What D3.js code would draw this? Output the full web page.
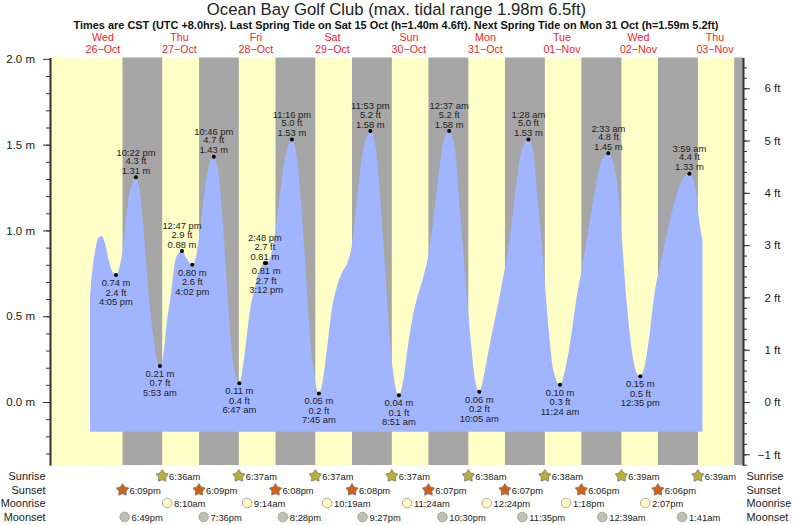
<!DOCTYPE html>
<meta charset="utf-8">
<title>Ocean Bay Golf Club tides</title>
<style>

body { margin: 0; background: #fff; }
svg { display: block; }
text { font-family: "Liberation Sans", Arial, sans-serif; fill: #222; }
.axis text { font-size: 11.5px; font-family: "Liberation Sans", Arial, sans-serif; }
.axis path, .axis line { stroke: #333; }
.axis path { stroke-width: 1.6; }
.tide text { font-size: 9.4px; }
.row text { font-size: 9.4px; }
.row text.name { font-size: 10.9px; }
.day text { font-size: 10.7px; fill: #f22; }

</style>
<body>
<script src="https://d3js.org/d3.v7.min.js"></script>
<script>

// hours since midnight 26 Oct, metres: outline of the tide
var curveHours = [7.94, 8.67, 9.51, 10.55, 11.6, 12.65, 13.69, 14.74, 16.08, 17.35, 18.4, 19.44, 20.49, 22.37,
  23.63, 24.67, 26.24, 27.81, 28.86, 29.88, 30.95, 32.0, 33.35, 34.61, 35.65, 36.78, 38.27, 40.03, 41.2, 42.45,
  44.02, 45.28, 46.77, 48.2, 49.77, 51.34, 52.9, 54.78, 56.05, 57.1, 58.14, 59.19, 60.76, 62.3, 62.8, 63.2, 64.42,
  65.99, 67.56, 69.12, 71.27, 72.8, 73.83, 75.4, 76.97, 78.2, 79.75, 81.15, 82.5, 83.77, 85.13, 86.9, 88.8, 90.04,
  91.6, 92.97, 94.44, 95.88, 97.37, 98.4, 99.98, 101.55, 103.1, 104.85, 106.25, 107.8, 109.4, 110.96, 112.53,
  114.1, 115.67, 117.24, 118.8, 120.62, 122.47, 124.03, 125.6, 127.17, 128.74, 130.08, 131.36, 132.93, 134.5,
  135.55, 138.16, 140.25, 141.82, 143.38, 145.47, 147.04, 148.6, 150.18, 151.75, 153.3, 155.4, 156.98, 158.55,
  160.64, 162.2, 164.3, 166.4, 168.5, 170.55, 172.15, 173.7, 174.76, 176.33, 177.9, 179.47, 180.58, 182.1, 183.66,
  185.2, 186.8, 188.9, 191.5, 193.6, 195.98, 197.8, 199.34, 200.07];
var curveMetres = [0.614, 0.769, 0.876, 0.954, 0.967, 0.925, 0.837, 0.769, 0.74, 0.798, 0.915, 1.099, 1.235, 1.31,
  1.216, 1.022, 0.653, 0.381, 0.254, 0.21, 0.274, 0.458, 0.633, 0.818, 0.866, 0.88, 0.837, 0.80, 0.847, 1.002,
  1.245, 1.381, 1.43, 1.342, 1.002, 0.556, 0.225, 0.11, 0.225, 0.381, 0.536, 0.633, 0.75, 0.804, 0.81, 0.81, 0.837,
  0.983, 1.216, 1.42, 1.53, 1.43, 1.235, 0.827, 0.381, 0.167, 0.05, 0.148, 0.342, 0.536, 0.653, 0.75, 0.818, 0.905,
  1.158, 1.391, 1.527, 1.58, 1.507, 1.333, 0.925, 0.478, 0.167, 0.04, 0.128, 0.342, 0.517, 0.633, 0.73,
  0.857, 1.061, 1.313, 1.517, 1.58, 1.469, 1.119, 0.75, 0.40, 0.128, 0.06, 0.138, 0.295, 0.44,
  0.535, 0.789, 1.041, 1.294, 1.469, 1.53, 1.449, 1.138, 0.808, 0.439, 0.186, 0.10, 0.186, 0.342,
  0.614, 0.769, 1.002, 1.235, 1.41, 1.45, 1.391, 1.216, 0.963, 0.575, 0.303, 0.167, 0.15, 0.225, 0.42,
  0.653, 0.789, 0.983, 1.177, 1.294, 1.33, 1.255, 1.022, 0.944];
var curveBase = -0.173;

// labelled high and low waters
var tideDays = [0, 0, 1, 1, 1, 1, 2, 2, 2, 2, 3, 3, 4, 5, 5, 6, 6, 7, 7, 8];
var tideTimes = ["4:05 pm", "10:22 pm", "5:53 am", "12:47 pm", "4:02 pm", "10:46 pm", "6:47 am", "2:48 pm", "3:12 pm", "11:16 pm",
  "7:45 am", "11:53 pm", "8:51 am", "12:37 am", "10:05 am", "1:28 am", "11:24 am", "2:33 am", "12:35 pm", "3:59 am"];
var tideMetres = ["0.74", "1.31", "0.21", "0.88", "0.80", "1.43", "0.11", "0.81", "0.81", "1.53",
  "0.05", "1.58", "0.04", "1.58", "0.06", "1.53", "0.10", "1.45", "0.15", "1.33"];
var tideFeet = ["2.4", "4.3", "0.7", "2.9", "2.6", "4.7", "0.4", "2.7", "2.7", "5.0",
  "0.2", "5.2", "0.1", "5.2", "0.2", "5.0", "0.3", "4.8", "0.5", "4.4"];
var tideIsHigh = [0, 1, 0, 1, 0, 1, 0, 1, 0, 1, 0, 1, 0, 1, 0, 1, 0, 1, 0, 1];

// day offsets and clock times for the rows under the chart
var sunriseDays = [1, 2, 3, 4, 5, 6, 7, 8];
var sunriseTimes = ["6:36am", "6:37am", "6:37am", "6:37am", "6:38am", "6:38am", "6:39am", "6:39am"];
var sunsetDays = [0, 1, 2, 3, 4, 5, 6, 7];
var sunsetTimes = ["6:09pm", "6:09pm", "6:08pm", "6:08pm", "6:07pm", "6:07pm", "6:06pm", "6:06pm"];
var moonriseDays = [1, 2, 3, 4, 5, 6, 7];
var moonriseTimes = ["8:10am", "9:14am", "10:19am", "11:24am", "12:24pm", "1:18pm", "2:07pm"];
var moonsetDays = [0, 1, 2, 3, 4, 5, 7, 8];
var moonsetTimes = ["6:49pm", "7:36pm", "8:28pm", "9:27pm", "10:30pm", "11:35pm", "12:39am", "1:41am"];
var lastSunsetHour = 210.05;

var dayNames = ["Wed", "Thu", "Fri", "Sat", "Sun", "Mon", "Tue", "Wed", "Thu"];
var dayDates = ["26\u2212Oct", "27\u2212Oct", "28\u2212Oct", "29\u2212Oct", "30\u2212Oct", "31\u2212Oct", "01\u2212Nov", "02\u2212Nov", "03\u2212Nov"];

var metreTicks = [2, 1.5, 1, 0.5, 0];
var feetTicks = [6, 5, 4, 3, 2, 1, 0, -1];
var M_PER_FT = 0.3048;

// "6:36am" or "4:05 pm" on day d -> hours since midnight 26 Oct
function toHours(d, clock) {
  var m = clock.match(/(\d+):(\d+)\s*(am|pm)/);
  return d * 24 + (+m[1] % 12) + (m[3] == "pm" ? 12 : 0) + m[2] / 60;
}

var svg = d3.select("body").append("svg").attr("width", 793).attr("height", 525);

var x = d3.scaleLinear().domain([-4.61, 212.8]).range([50, 743]);
var y = d3.scaleLinear().domain([-0.367, 2.008]).range([465, 57.5]);
var yFt = d3.scaleLinear().domain([-0.367 / M_PER_FT, 2.008 / M_PER_FT]).range([465, 57.5]);

// Day and night bands
svg.append("rect")
    .attr("x", x.range()[0]).attr("y", y.range()[1])
    .attr("width", x.range()[1] - x.range()[0]).attr("height", y.range()[0] - y.range()[1])
    .attr("fill", "#ffffc8");

var sunsetHours = sunsetTimes.map(function(t, i) { return toHours(sunsetDays[i], t); });
var sunriseHours = sunriseTimes.map(function(t, i) { return toHours(sunriseDays[i], t); });
svg.append("g").selectAll("rect")
    .data(sunsetHours)
  .enter().append("rect")
    .attr("x", function(d) { return x(d); })
    .attr("y", y.range()[1])
    .attr("width", function(d, i) { return x(sunriseHours[i]) - x(d); })
    .attr("height", y.range()[0] - y.range()[1])
    .attr("fill", "#a6a6a6");
svg.append("rect")
    .attr("x", x(lastSunsetHour)).attr("y", y.range()[1])
    .attr("width", x.range()[1] - x(lastSunsetHour)).attr("height", y.range()[0] - y.range()[1])
    .attr("fill", "#a6a6a6");

// Tide area
var area = d3.area()
    .x(function(d) { return x(d); })
    .y0(y(curveBase))
    .y1(function(d, i) { return y(curveMetres[i]); })
    .curve(d3.curveMonotoneX);
svg.append("path").datum(curveHours).attr("d", area).attr("fill", "#a0b4ff");

// High and low water marks with their labels
var tide = svg.append("g").attr("class", "tide").selectAll("g")
    .data(tideTimes)
  .enter().append("g")
    .attr("transform", function(d, i) {
      return "translate(" + x(toHours(tideDays[i], d)) + "," + y(+tideMetres[i]) + ")";
    });
tide.append("circle").attr("r", 2).attr("fill", "#000");
tide.each(function(d, i) {
  var g = d3.select(this);
  var lines = [tideMetres[i] + " m", tideFeet[i] + " ft", d];
  var offs = tideIsHigh[i] ? [-3.4, -13.4, -21.6] : [10.8, 20.5, 29.8];
  lines.forEach(function(s, j) {
    g.append("text").attr("text-anchor", "middle").attr("y", offs[j]).text(s);
  });
});

// Axes: long labelled ticks plus short minor ones
svg.append("g").attr("class", "axis")
    .attr("transform", "translate(" + x.range()[0] + ",0)")
    .call(d3.axisLeft(y).tickValues(d3.range(-3, 20).map(function(d) { return d / 10; }))
      .tickSize(4).tickSizeOuter(0).tickFormat(""));
svg.append("g").attr("class", "axis")
    .attr("transform", "translate(" + x.range()[0] + ",0)")
    .call(d3.axisLeft(y).tickValues(metreTicks).tickSize(7).tickSizeOuter(0).tickPadding(8)
      .tickFormat(function(d) { return d.toFixed(1) + " m"; }));

svg.append("g").attr("class", "axis")
    .attr("transform", "translate(" + x.range()[1] + ",0)")
    .call(d3.axisRight(yFt).tickValues(d3.range(-6, 33).map(function(d) { return d / 5; }))
      .tickSize(4).tickSizeOuter(0).tickFormat(""));
svg.append("g").attr("class", "axis")
    .attr("transform", "translate(" + x.range()[1] + ",0)")
    .call(d3.axisRight(yFt).tickValues(feetTicks).tickSize(7).tickSizeOuter(0)
      .tickFormat(function(d) { return (d < 0 ? "\u2212" + (-d) : d) + " ft"; }))
  .selectAll("text")
    .attr("text-anchor", "end")
    .attr("x", 37.5);

// Title lines and day headers
svg.append("text").attr("x", 396.5).attr("y", 14.5).attr("text-anchor", "middle")
    .style("font-size", "16.7px")
    .text("Ocean Bay Golf Club (max. tidal range 1.98m 6.5ft)");
svg.append("text").attr("x", 396).attr("y", 29).attr("text-anchor", "middle")
    .style("font-size", "10.93px").style("font-weight", "bold").style("fill", "#111")
    .text("Times are CST (UTC +8.0hrs). Last Spring Tide on Sat 15 Oct (h=1.40m 4.6ft). Next Spring Tide on Mon 31 Oct (h=1.59m 5.2ft)");

var day = svg.append("g").attr("class", "day").selectAll("g")
    .data(dayNames)
  .enter().append("g")
    .attr("transform", function(d, i) { return "translate(" + x(i * 24 + 12) + ",0)"; })
    .attr("text-anchor", "middle");
day.append("text").attr("y", 41).text(function(d) { return d; });
day.append("text").attr("y", 53).text(function(d, i) { return dayDates[i]; });

// Rows under the chart
// fat five pointed star, alternating outer and inner radius
var star = d3.lineRadial()
    .angle(function(d, i) { return i * Math.PI / 5; })
    .radius(function(d, i) { return i % 2 ? 3.7 : 6.4; })
    .curve(d3.curveLinearClosed)(d3.range(10));

function drawRow(name, rowY, days, times, marker) {
  var row = svg.append("g").attr("class", "row");
  row.append("text").attr("class", "name").attr("x", 45.5).attr("y", rowY + 3.8).attr("text-anchor", "end").text(name);
  row.append("text").attr("class", "name").attr("x", 746.5).attr("y", rowY + 3.8).text(name);
  var item = row.selectAll("g")
      .data(times)
    .enter().append("g")
      .attr("transform", function(d, i) { return "translate(" + x(toHours(days[i], d)) + "," + rowY + ")"; });
  marker(item);
  item.append("text").attr("x", 6.9).attr("y", 3.6).text(function(d) { return d; });
}

function starMarker(fill) {
  return function(item) {
    item.append("path").attr("d", star).attr("fill", fill).attr("stroke", "#777").attr("stroke-width", 0.8);
  };
}

function moonMarker(fill) {
  return function(item) {
    item.append("circle").attr("r", 4.8).attr("fill", fill).attr("stroke", "#999").attr("stroke-width", 0.8);
  };
}

drawRow("Sunrise", 476, sunriseDays, sunriseTimes, starMarker("#b8b036"));
drawRow("Sunset", 490, sunsetDays, sunsetTimes, starMarker("#d2601a"));
drawRow("Moonrise", 503, moonriseDays, moonriseTimes, moonMarker("#ffffc8"));
drawRow("Moonset", 517, moonsetDays, moonsetTimes, moonMarker("#c0c0b0"));

</script>
</body>
